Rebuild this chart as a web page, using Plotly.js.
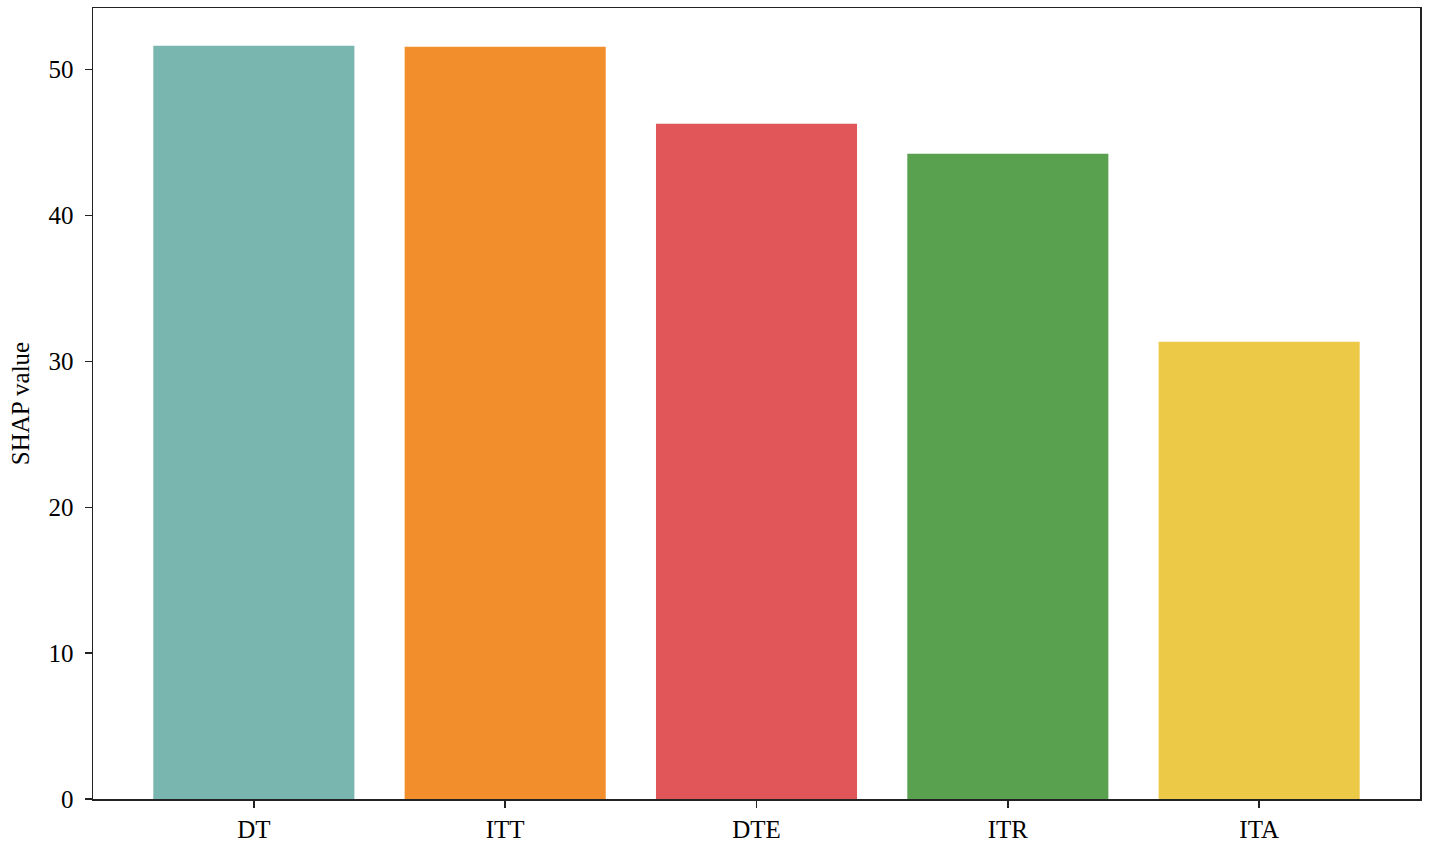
<!DOCTYPE html>
<html>
<head>
<meta charset="utf-8">
<script src="https://cdn.plot.ly/plotly-3.0.1.min.js"></script>
<style>
  html, body { margin: 0; padding: 0; background: #fff; }
  #grafico { width: 1429px; height: 844px; }
</style>
</head>
<body>
<div id="grafico"></div>
<script>
// datos
const categorias = ['DT', 'ITT', 'DTE', 'ITR', 'ITA'];
const valores = [51.65, 51.58, 46.3, 44.24, 31.34];
const colores = ['#7AB6B0', '#F28E2B', '#E15759', '#59A14F', '#EDC948'];
const ticksY = [0, 10, 20, 30, 40, 50];

const fuente = 'Liberation Serif, Times New Roman, serif';

const trace = {
  x: categorias,
  y: valores,
  type: 'bar',
  width: 0.8,
  marker: { color: colores, line: { width: 0 } },
  hoverinfo: 'x+y'
};

const layout = {
  width: 1429,
  height: 844,
  margin: { l: 93, r: 9, t: 8, b: 45 },
  paper_bgcolor: '#fff',
  plot_bgcolor: '#fff',
  font: { family: fuente, size: 25, color: '#000' },
  showlegend: false,
  bargap: 0.2,
  xaxis: {
    range: [-0.64, 4.64],
    showline: true, mirror: true, linecolor: '#222', linewidth: 1.5,
    ticks: 'outside', ticklen: 7, tickwidth: 1.5, tickcolor: '#222',
    showgrid: false, zeroline: false,
    tickfont: { family: fuente, size: 25 }
  },
  yaxis: {
    title: { text: 'SHAP value', font: { family: fuente, size: 25 }, standoff: 12 },
    range: [0, 54.23],
    tickvals: ticksY,
    ticklabelstandoff: 6,
    showline: true, mirror: true, linecolor: '#222', linewidth: 1.5,
    ticks: 'outside', ticklen: 7, tickwidth: 1.5, tickcolor: '#222',
    showgrid: false, zeroline: false,
    tickfont: { family: fuente, size: 25 }
  }
};

Plotly.newPlot('grafico', [trace], layout, { displayModeBar: false, staticPlot: true });
</script>
</body>
</html>
